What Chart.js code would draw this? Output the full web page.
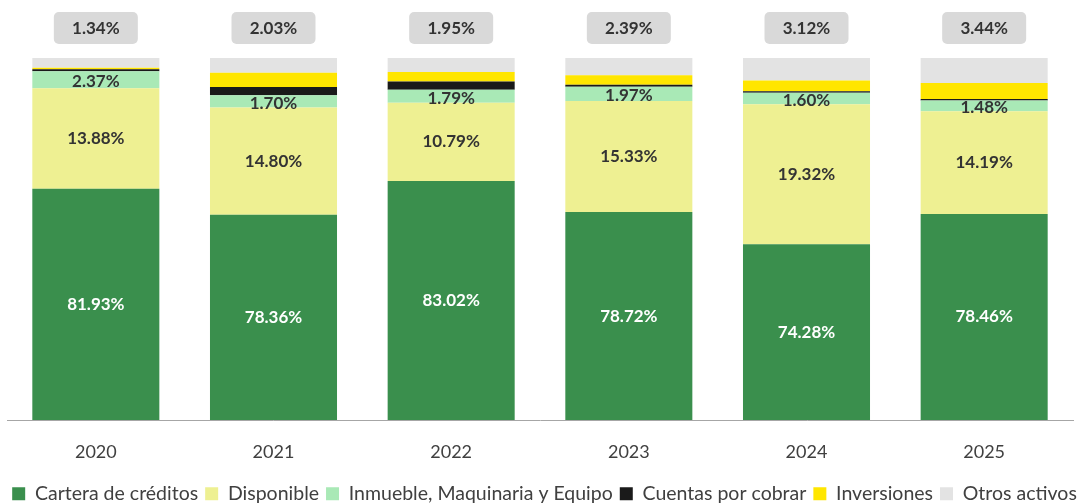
<!DOCTYPE html>
<html>
<head>
<meta charset="utf-8">
<script src="https://cdn.jsdelivr.net/npm/chart.js@4"></script>
<style>
  html, body { margin: 0; padding: 0; background: #fff; }
  #wrap { width: 1089px; height: 503px; }
</style>
</head>
<body>
<div id="wrap"><canvas id="c" width="1089" height="503"></canvas></div>
<script>
// categories and series (percent of total assets)
const years = ['2020', '2021', '2022', '2023', '2024', '2025'];
const cartera = [81.93, 78.36, 83.02, 78.72, 74.28, 78.46];
const disponible = [13.88, 14.80, 10.79, 15.33, 19.32, 14.19];
const inmueble = [2.37, 1.70, 1.79, 1.97, 1.60, 1.48];
const cuentas = [0.28, 1.15, 1.15, 0.30, 0.22, 0.20];
const inversiones = [0.20, 1.96, 1.30, 1.29, 1.46, 2.23];
const otros = [1.34, 2.03, 1.95, 2.39, 3.12, 3.44];

const FONT = 'Lato';
const TXT = '#404040';

// draws the % labels inside the bars and the grey boxes for "Otros activos"
const labelPlugin = {
  id: 'pctLabels',
  afterDatasetsDraw(chart) {
    const ctx = chart.ctx;
    const area = chart.chartArea;
    ctx.save();
    ctx.textAlign = 'center';
    ctx.textBaseline = 'middle';
    ctx.font = 'bold 17px ' + FONT;
    [0, 1, 2].forEach(di => {
      const meta = chart.getDatasetMeta(di);
      const vals = chart.data.datasets[di].data;
      meta.data.forEach((bar, i) => {
        const bottom = Math.min(bar.base, area.bottom);
        const cy = (bar.y + bottom) / 2 + (di === 2 ? 2 : 0);
        ctx.fillStyle = di === 0 ? '#ffffff' : '#333333';
        ctx.fillText(vals[i].toFixed(2) + '%', bar.x, cy);
      });
    });
    // otros activos: grey rounded box above each bar
    const meta = chart.getDatasetMeta(5);
    const vals = chart.data.datasets[5].data;
    meta.data.forEach((bar, i) => {
      const w = 84, h = 32;
      const cy = bar.y - 30;
      ctx.fillStyle = '#d9d9d9';
      ctx.beginPath();
      ctx.roundRect(bar.x - w / 2, cy - h / 2, w, h, 5);
      ctx.fill();
      ctx.fillStyle = '#333333';
      ctx.fillText(vals[i].toFixed(2) + '%', bar.x, cy + 1);
    });
    ctx.restore();
  }
};

const mk = (label, data, color) => ({
  label, data, backgroundColor: color, borderWidth: 0,
  barPercentage: 0.715, categoryPercentage: 1.0
});

new Chart(document.getElementById('c'), {
  type: 'bar',
  data: {
    labels: years,
    datasets: [
      mk('Cartera de créditos', cartera, '#3a8f4d'),
      mk('Disponible', disponible, '#eef092'),
      mk('Inmueble, Maquinaria y Equipo', inmueble, '#a9e9b6'),
      mk('Cuentas por cobrar', cuentas, '#1a1a1a'),
      mk('Inversiones', inversiones, '#ffe600'),
      mk('Otros activos', otros, '#e3e3e3')
    ]
  },
  options: {
    responsive: false,
    animation: false,
    layout: { padding: { top: 58, left: 0, right: 0, bottom: 0 } },
    scales: {
      x: {
        stacked: true,
        grid: { display: false, drawTicks: false },
        border: { display: true, color: '#a6a6a6', width: 1 },
        ticks: { color: TXT, font: { family: FONT, size: 18 }, padding: 21 },
        afterFit: s => { s.height = 57; }
      },
      y: {
        stacked: true, min: 50, max: 100,
        grid: { display: false, drawTicks: false },
        border: { display: false },
        ticks: { display: false },
        afterFit: s => { s.width = 7; }
      },
      y2: {
        type: 'linear', position: 'right', min: 0, max: 1,
        grid: { display: false, drawTicks: false },
        border: { display: false },
        ticks: { display: false },
        afterFit: s => { s.width = 16; }
      }
    },
    plugins: {
      tooltip: { enabled: false },
      legend: {
        position: 'bottom',
        maxHeight: 26,
        labels: {
          boxWidth: 13, boxHeight: 13, padding: 7,
          color: TXT, font: { family: FONT, size: 19.5 }
        }
      }
    }
  },
  plugins: [labelPlugin]
});
</script>
</body>
</html>
